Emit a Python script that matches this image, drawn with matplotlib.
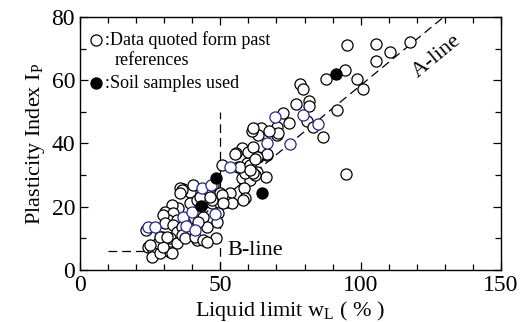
import matplotlib
matplotlib.use('Agg')
import matplotlib.pyplot as plt
from matplotlib.ticker import MultipleLocator
import numpy as np

plt.rcParams['font.family'] = ['Liberation Serif', 'DejaVu Serif']
plt.rcParams['mathtext.fontset'] = 'custom'
plt.rcParams['mathtext.rm'] = 'Liberation Serif'

# data quoted from past references (black open circles)
open_wl = [95.3, 105.5, 117.7, 105.5, 110.6, 94.5, 87.6, 98.6, 100.8, 78.4,
           79.3, 91.4, 77.0, 81.7, 81.7, 72.4, 70.1, 74.6, 80.8, 83.1,
           86.7, 70.1, 94.6, 66.5, 64.4, 70.7, 67.4, 63.5, 61.4, 61.7,
           57.6, 55.6, 60.6, 63.5, 66.7, 50.5, 56.4, 59.4, 57.6, 63.2,
           66.3, 60.6, 58.5, 55.2, 60.0, 61.5, 62.9, 62.3, 58.8, 61.7,
           57.0, 60.6, 47.5, 49.9, 53.4, 36.8, 41.0, 58.8, 44.5, 46.9,
           49.9, 49.3, 48.7, 52.3, 43.9, 45.1, 48.4, 43.9, 46.9, 54.0,
           58.2, 35.6, 39.2, 40.4, 36.2, 35.6, 39.2, 41.6, 35.0, 32.7,
           30.3, 33.2, 31.5, 34.4, 37.4, 29.7, 30.3, 33.0, 34.4, 36.2,
           38.6, 41.6, 42.1, 29.1, 32.1, 34.4, 36.2, 37.4, 41.0, 43.9,
           45.1, 23.5, 24.3, 26.1, 25.5, 28.5, 32.1, 32.7, 27.9, 29.7,
           28.5, 30.9, 24.9, 42.7, 46.3, 50.5, 60.6, 51.1, 62.3]
open_ip = [71.1, 71.5, 72.2, 66.1, 69.0, 63.2, 60.5, 60.4, 57.2, 58.7,
           57.2, 50.6, 52.5, 53.4, 51.8, 49.5, 45.3, 46.4, 47.2, 45.3,
           42.2, 42.7, 30.4, 36.4, 45.0, 43.2, 44.0, 42.8, 44.0, 44.8,
           38.5, 36.9, 34.8, 35.8, 36.7, 33.2, 32.7, 33.7, 29.0, 31.1,
           29.3, 28.5, 25.8, 36.7, 37.4, 39.0, 35.8, 30.0, 30.6, 30.6,
           32.7, 33.2, 26.9, 24.2, 24.2, 25.5, 23.7, 22.7, 21.6, 21.1,
           21.1, 17.9, 15.3, 21.6, 16.9, 13.7, 10.0, 22.7, 22.1, 21.1,
           22.1, 25.8, 24.8, 26.9, 25.3, 24.2, 21.1, 22.1, 19.5, 20.6,
           18.4, 17.9, 15.8, 15.8, 14.8, 17.4, 14.8, 14.2, 12.1, 13.7,
           11.6, 9.5, 15.3, 10.5, 10.0, 8.4, 11.1, 10.0, 10.5, 9.5,
           8.9, 12.6, 7.4, 6.3, 4.2, 5.3, 5.8, 5.3, 8.4, 7.4,
           10.5, 10.5, 7.9, 23.2, 23.2, 23.7, 31.6, 21.1, 35.0]

# data quoted from past references (blue open circles)
blue_wl = [24.2, 26.9, 36.8, 39.8, 37.6, 41.1, 43.6, 46.8, 48.0, 53.4,
           66.6, 69.6, 75.0, 79.6, 84.9]
blue_ip = [13.7, 13.7, 16.9, 18.3, 13.8, 12.5, 26.0, 27.0, 17.8, 32.7,
           40.2, 48.4, 39.8, 49.0, 46.1]

# soil samples used
soil_wl = [43.0, 48.6, 64.9, 91.2]
soil_ip = [20.3, 29.0, 24.2, 61.9]

fig = plt.figure(figsize=(5.2, 3.22), dpi=100)
ax = fig.add_axes([0.1538, 0.1615, 0.8097, 0.7857])

dash = (7, 4)
ms = 8
# A-line and its horizontal part
a_x = np.array([28.2, 129.0])
ax.plot(a_x, 0.73 * (a_x - 20), color='black', lw=0.9, dashes=dash, zorder=1)
ax.plot([10, 28.2], [6, 6], color='black', lw=0.9, dashes=dash, zorder=1)
# B-line
ax.plot([50, 50], [0, 50], color='black', lw=0.9, dashes=dash, zorder=1)

ax.plot(open_wl, open_ip, 'o', ms=ms, mfc='white', mec='black', mew=0.9,
        ls='none', zorder=2)
ax.plot(blue_wl, blue_ip, 'o', ms=ms, mfc='white', mec='#22229a', mew=0.9,
        ls='none', zorder=3)
ax.plot(soil_wl, soil_ip, 'o', ms=ms, mfc='black', mec='black', mew=0.9,
        ls='none', zorder=4)

# legend drawn as text
ax.plot([5.7], [72.7], 'o', ms=ms, mfc='white', mec='black', mew=0.9, clip_on=False)
ax.plot([5.7], [59.1], 'o', ms=ms, mfc='black', mec='black', mew=0.9, clip_on=False)
ax.text(9.0, 72.7, ':Data quoted form past', fontsize=13, va='center', ha='left')
ax.text(12.5, 66.1, 'references', fontsize=13, va='center', ha='left')
ax.text(9.0, 59.1, ':Soil samples used', fontsize=13, va='center', ha='left')

ax.text(127, 67.5, 'A-line', fontsize=16, rotation=39.4, ha='center', va='center')
ax.text(52.4, 6.3, 'B-line', fontsize=16, ha='left', va='center')

ax.set_xlim(0, 150)
ax.set_ylim(0, 80)
ax.xaxis.set_major_locator(MultipleLocator(50))
ax.xaxis.set_minor_locator(MultipleLocator(10))
ax.yaxis.set_major_locator(MultipleLocator(20))
ax.yaxis.set_minor_locator(MultipleLocator(10))
ax.tick_params(which='both', direction='in', top=True, right=True, labelsize=17)
ax.tick_params(which='major', length=6, width=0.9)
ax.tick_params(which='minor', length=4, width=0.9)
for s in ax.spines.values():
    s.set_linewidth(1.0)

ax.set_xlabel(r'Liquid limit w$_\mathregular{L}$ ( % )', fontsize=16, labelpad=2)
ax.set_ylabel(r'Plasticity Index I$_\mathregular{P}$', fontsize=16, labelpad=3)

plt.savefig('out.png', dpi=100)
